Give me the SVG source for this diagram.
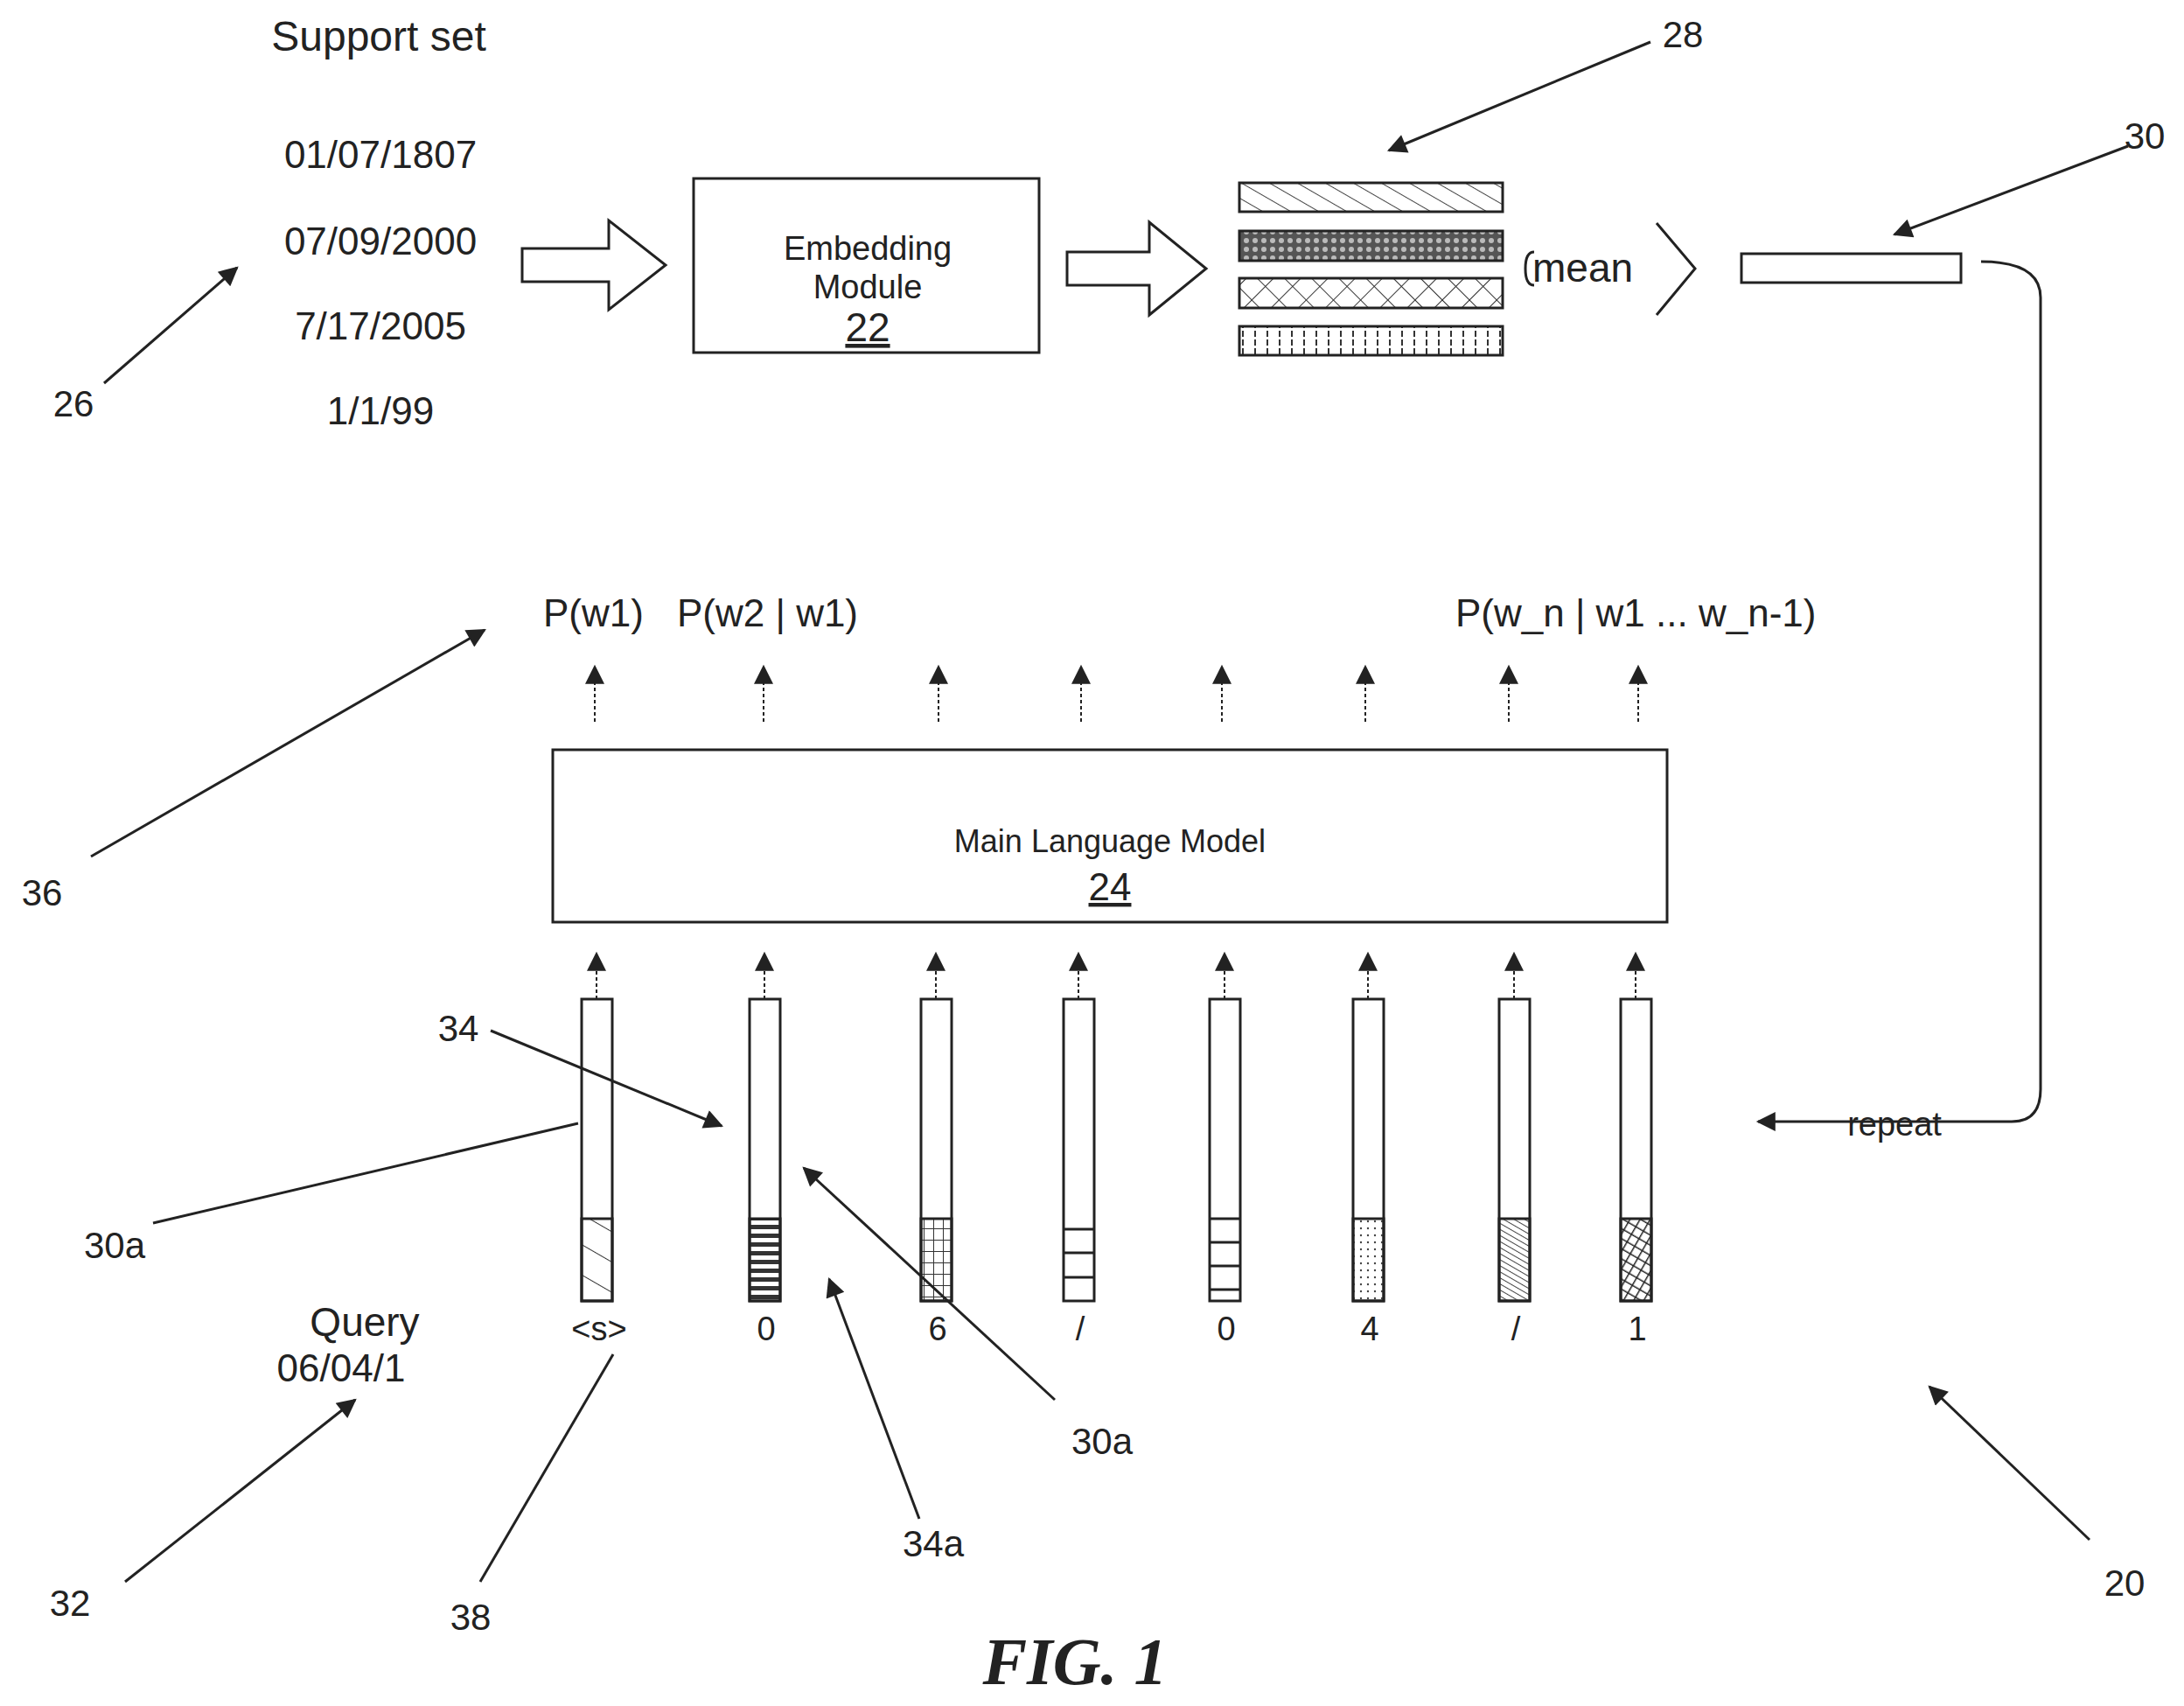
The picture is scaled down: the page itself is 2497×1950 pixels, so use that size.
<svg xmlns="http://www.w3.org/2000/svg" width="2497" height="1950" viewBox="0 0 2497 1950">
<style>
text{font-family:"Liberation Sans",Arial,sans-serif;fill:#222}
.t{font-size:44px;text-anchor:middle}
.n{font-size:42px;text-anchor:middle}
.s{font-size:38px;text-anchor:middle}
.ln{stroke:#222;stroke-width:3;fill:none}
.box{stroke:#222;stroke-width:3;fill:#fff}
</style>
<defs>
<marker id="ahb" viewBox="0 0 10 10" refX="9" refY="5" markerWidth="28" markerHeight="22" markerUnits="userSpaceOnUse" orient="auto"><path d="M0,0L10,5L0,10z" fill="#222"/></marker>
<pattern id="p1" width="16" height="16" patternUnits="userSpaceOnUse" patternTransform="rotate(-60)"><line x1="0" y1="0" x2="0" y2="16" stroke="#444" stroke-width="2"/></pattern>
<pattern id="p2" width="10" height="10" patternUnits="userSpaceOnUse"><rect width="10" height="10" fill="#555"/><circle cx="5" cy="5" r="3" fill="#bbb"/></pattern>
<pattern id="p3" width="22" height="22" patternUnits="userSpaceOnUse" patternTransform="rotate(45)"><path d="M0,0H22M0,0V22" stroke="#333" stroke-width="2" fill="none"/></pattern>
<pattern id="p4" width="14" height="10" patternUnits="userSpaceOnUse"><line x1="7" y1="0" x2="7" y2="10" stroke="#333" stroke-width="2" stroke-dasharray="5,3"/></pattern>
<pattern id="c1" width="30" height="30" patternUnits="userSpaceOnUse" patternTransform="rotate(-60)"><line x1="0" y1="0" x2="0" y2="30" stroke="#333" stroke-width="2"/></pattern>
<pattern id="c2" width="35" height="10" patternUnits="userSpaceOnUse"><rect width="35" height="5" fill="#333"/></pattern>
<pattern id="c3" width="11" height="13" patternUnits="userSpaceOnUse"><path d="M0,0H11M0,0V13" stroke="#333" stroke-width="2" fill="none"/></pattern>
<pattern id="c6" width="8" height="8" patternUnits="userSpaceOnUse"><circle cx="4" cy="4" r="1.2" fill="#444"/></pattern>
<pattern id="c7" width="6" height="6" patternUnits="userSpaceOnUse" patternTransform="rotate(-60)"><line x1="0" y1="0" x2="0" y2="6" stroke="#444" stroke-width="2"/></pattern>
<pattern id="c8" width="10" height="10" patternUnits="userSpaceOnUse" patternTransform="rotate(-60)"><path d="M0,0V10M0,0H10" stroke="#222" stroke-width="3"/></pattern>
</defs>

<g id="support">
<text x="433" y="58" style="font-size:48px;text-anchor:middle">Support set</text>
<text class="t" x="435" y="192">01/07/1807</text>
<text class="t" x="435" y="291">07/09/2000</text>
<text class="t" x="435" y="388">7/17/2005</text>
<text class="t" x="435" y="485">1/1/99</text>
</g>

<g id="arrow1"><path class="ln" d="M597,284H696V252L761,303L696,354V322H597Z"/></g>
<g id="embedding">
<rect class="box" x="793" y="204" width="395" height="199"/>
<text class="s" x="992" y="297">Embedding</text>
<text class="s" x="992" y="341">Module</text>
<text x="992" y="390" style="font-size:46px;text-anchor:middle;text-decoration:underline">22</text>
</g>
<g id="arrow2"><path class="ln" d="M1220,288H1314V254L1379,307L1314,360V326H1220Z"/></g>

<g id="vectors">
<rect x="1417" y="209" width="301" height="33" fill="url(#p1)" stroke="#222" stroke-width="3"/>
<rect x="1417" y="264" width="301" height="34" fill="url(#p2)" stroke="#222" stroke-width="3"/>
<rect x="1417" y="318" width="301" height="34" fill="url(#p3)" stroke="#222" stroke-width="3"/>
<rect x="1417" y="373" width="301" height="33" fill="url(#p4)" stroke="#222" stroke-width="3"/>
</g>

<g id="mean">
<path class="ln" d="M1754,288Q1744,288 1744,307Q1744,326 1754,326"/>
<text x="1752" y="322" style="font-size:46px">mean</text>
<path class="ln" d="M1894,255L1938,307L1894,360"/>
</g>

<g id="vec30"><rect class="box" x="1991" y="290" width="251" height="33"/></g>

<g id="model">
<rect class="box" x="632" y="857" width="1274" height="197"/>
<text x="1269" y="974" style="font-size:36px;text-anchor:middle">Main Language Model</text>
<text x="1269" y="1029" style="font-size:44px;text-anchor:middle;text-decoration:underline">24</text>
</g>

<g id="outputs" style="font-size:44px">
<text x="621" y="716" style="font-size:44px">P(w1)</text>
<text x="774" y="716" style="font-size:44px">P(w2 | w1)</text>
<text x="1664" y="716" style="font-size:44px">P(w_n | w1 ... w_n-1)</text>
</g>

<g id="columns">
<rect class="box" x="665" y="1142" width="35" height="345"/><rect x="665" y="1393" width="35" height="94" fill="url(#c1)" stroke="#222" stroke-width="3"/>
<rect class="box" x="857" y="1142" width="35" height="345"/><rect x="857" y="1393" width="35" height="94" fill="url(#c2)" stroke="#222" stroke-width="3"/>
<rect class="box" x="1053" y="1142" width="35" height="345"/><rect x="1053" y="1393" width="35" height="94" fill="url(#c3)" stroke="#222" stroke-width="3"/>
<rect class="box" x="1216" y="1142" width="35" height="345"/><path class="ln" d="M1216,1405H1251M1216,1432H1251M1216,1460H1251"/>
<rect class="box" x="1383" y="1142" width="35" height="345"/><path class="ln" d="M1383,1393H1418M1383,1420H1418M1383,1447H1418M1383,1474H1418"/>
<rect class="box" x="1547" y="1142" width="35" height="345"/><rect x="1547" y="1393" width="35" height="94" fill="url(#c6)" stroke="#222" stroke-width="3"/>
<rect class="box" x="1714" y="1142" width="35" height="345"/><rect x="1714" y="1393" width="35" height="94" fill="url(#c7)" stroke="#222" stroke-width="3"/>
<rect class="box" x="1853" y="1142" width="35" height="345"/><rect x="1853" y="1393" width="35" height="94" fill="url(#c8)" stroke="#222" stroke-width="3"/>
</g>

<g id="tokens">
<text class="s" x="685" y="1532">&lt;s&gt;</text>
<text class="s" x="876" y="1532">0</text>
<text class="s" x="1072" y="1532">6</text>
<text class="s" x="1235" y="1532">/</text>
<text class="s" x="1402" y="1532">0</text>
<text class="s" x="1566" y="1532">4</text>
<text class="s" x="1733" y="1532">/</text>
<text class="s" x="1872" y="1532">1</text>
</g>

<g id="query">
<text x="417" y="1527" style="font-size:46px;text-anchor:middle">Query</text>
<text x="390" y="1579" style="font-size:44px;text-anchor:middle">06/04/1</text>
</g>

<g id="labels">
<text class="n" x="84" y="476">26</text>
<text class="n" x="1924" y="54">28</text>
<text class="n" x="2452" y="170">30</text>
<text class="n" x="48" y="1035">36</text>
<text class="n" x="524" y="1190">34</text>
<text class="n" x="131" y="1438">30a</text>
<text class="n" x="1260" y="1662">30a</text>
<text class="n" x="1067" y="1779">34a</text>
<text class="n" x="538" y="1863">38</text>
<text class="n" x="80" y="1847">32</text>
<text class="n" x="2429" y="1824">20</text>
<text x="1229" y="1925" style="font-family:'Liberation Serif',serif;font-size:76px;font-weight:bold;font-style:italic;text-anchor:middle">FIG. 1</text>
</g>

<g id="connectors">
<path class="ln" d="M2265,299Q2333,299 2333,340V1245Q2333,1282 2300,1282H2010" marker-end="url(#ahb)"/>
<text x="2166" y="1298" style="font-size:38px;text-anchor:middle">repeat</text>
<g style="stroke:#222;stroke-width:2;fill:none;stroke-dasharray:4,3">
<path d="M680,825V762" marker-end="url(#ahb)"/><path d="M873,825V762" marker-end="url(#ahb)"/><path d="M1073,825V762" marker-end="url(#ahb)"/><path d="M1236,825V762" marker-end="url(#ahb)"/><path d="M1397,825V762" marker-end="url(#ahb)"/><path d="M1561,825V762" marker-end="url(#ahb)"/><path d="M1725,825V762" marker-end="url(#ahb)"/><path d="M1873,825V762" marker-end="url(#ahb)"/>
<path d="M682,1142V1090" marker-end="url(#ahb)"/><path d="M874,1142V1090" marker-end="url(#ahb)"/><path d="M1070,1142V1090" marker-end="url(#ahb)"/><path d="M1233,1142V1090" marker-end="url(#ahb)"/><path d="M1400,1142V1090" marker-end="url(#ahb)"/><path d="M1564,1142V1090" marker-end="url(#ahb)"/><path d="M1731,1142V1090" marker-end="url(#ahb)"/><path d="M1870,1142V1090" marker-end="url(#ahb)"/>
</g>
<g style="stroke:#222;stroke-width:3;fill:none">
<path d="M119,438L271,306" marker-end="url(#ahb)"/>
<path d="M1887,48L1588,172" marker-end="url(#ahb)"/>
<path d="M2433,167L2166,268" marker-end="url(#ahb)"/>
<path d="M104,979L554,720" marker-end="url(#ahb)"/>
<path d="M561,1178L825,1287" marker-end="url(#ahb)"/>
<path d="M175,1398L661,1284"/>
<path d="M1206,1600L919,1335" marker-end="url(#ahb)"/>
<path d="M1051,1736L948,1462" marker-end="url(#ahb)"/>
<path d="M549,1808L701,1548"/>
<path d="M143,1808L406,1600" marker-end="url(#ahb)"/>
<path d="M2389,1760L2206,1585" marker-end="url(#ahb)"/>
</g>
</g>
</svg>
